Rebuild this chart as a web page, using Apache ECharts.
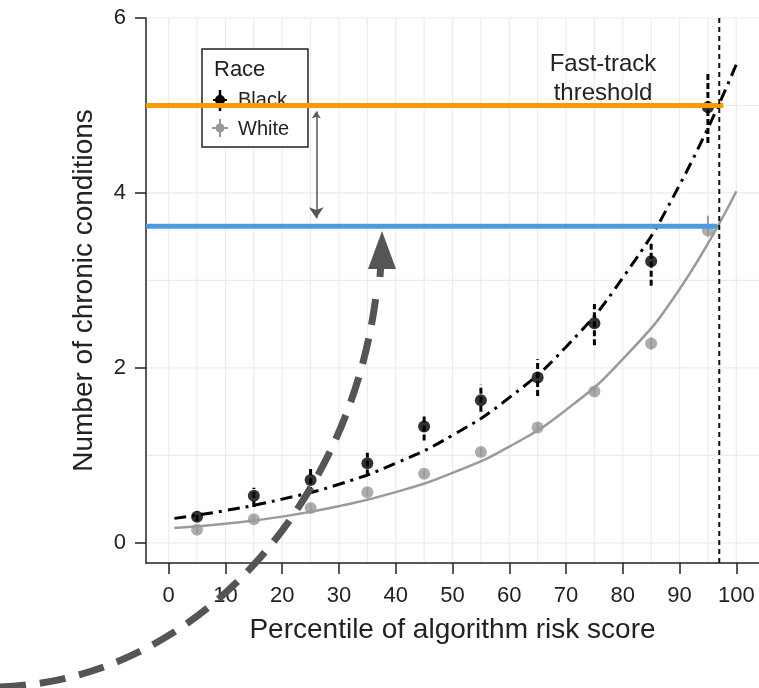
<!DOCTYPE html>
<html>
<head>
<meta charset="utf-8">
<script src="https://cdn.jsdelivr.net/npm/echarts@6/dist/echarts.min.js"></script>
<style>
html, body { margin: 0; padding: 0; background: #fff; }
#chart { width: 759px; height: 688px; }
</style>
</head>
<body>
<div id="chart"></div>
<script>
// binned means by risk percentile
const percentiles = [5, 15, 25, 35, 45, 55, 65, 75, 85, 95]
const blackMean = [0.30, 0.54, 0.72, 0.91, 1.33, 1.63, 1.89, 2.51, 3.22, 4.98]
const blackLow = [0.25, 0.41, 0.57, 0.77, 1.17, 1.50, 1.68, 2.26, 2.94, 4.57]
const blackHigh = [0.36, 0.63, 0.85, 1.03, 1.48, 1.81, 2.10, 2.73, 3.42, 5.38]
const whiteMean = [0.15, 0.27, 0.40, 0.58, 0.79, 1.04, 1.32, 1.73, 2.28, 3.57]
const whiteLow = [0.11, 0.23, 0.36, 0.54, 0.75, 0.99, 1.27, 1.68, 2.21, 3.50]
const whiteHigh = [0.19, 0.31, 0.44, 0.62, 0.83, 1.09, 1.37, 1.78, 2.35, 3.74]

// fitted curves
const fitX = [1, 10, 20, 30, 40, 50, 60, 70, 80, 90, 100]
const blackFit = [0.28, 0.37, 0.50, 0.67, 0.91, 1.23, 1.66, 2.24, 3.03, 4.09, 5.47]
const whiteFit = [0.17, 0.22, 0.30, 0.42, 0.58, 0.80, 1.10, 1.52, 2.10, 2.90, 4.02]

// reference lines
const blackThreshold = [[-4, 5.0], [97.7, 5.0]]
const whiteThreshold = [[-4, 3.62], [96.6, 3.62]]
const fastTrack = [[97, 6], [97, -0.23]]
const gapArrow = [[26, 4.93], [26, 3.71]]

const xTicks = [0, 10, 20, 30, 40, 50, 60, 70, 80, 90, 100]
const yTicks = [0, 2, 4, 6]
const xGrid = [0, 5, 10, 15, 20, 25, 30, 35, 40, 45, 50, 55, 60, 65, 70, 75, 80, 85, 90, 95, 100]
const yGrid = [0, 1, 2, 3, 4, 5, 6]

const xMin = -4
const xMax = 104
const yMin = -0.23
const yMax = 6
const font = 'Liberation Sans, Arial, sans-serif'

const chart = echarts.init(document.getElementById('chart'))

function gridLine(vertical) {
  return function(params, api) {
    const v = api.value(vertical ? 0 : 1)
    const a = vertical ? api.coord([v, yMin]) : api.coord([xMin, v])
    const b = vertical ? api.coord([v, yMax]) : api.coord([xMax, v])
    return {
      type: 'line',
      shape: { x1: a[0], y1: a[1], x2: b[0], y2: b[1] },
      style: { stroke: '#ececec', lineWidth: 1.2 }
    }
  }
}

function errorBar(color, width, dash) {
  return function(params, api) {
    const lo = api.coord([api.value(0), api.value(1)])
    const hi = api.coord([api.value(0), api.value(2)])
    return {
      type: 'line',
      shape: { x1: lo[0], y1: lo[1], x2: hi[0], y2: hi[1] },
      style: { stroke: color, lineWidth: width, lineDash: dash }
    }
  }
}

const option = {
  animation: false,
  backgroundColor: '#fff',
  grid: { left: 146, top: 18, right: 0, bottom: 125 },
  xAxis: {
    type: 'value',
    min: xMin,
    max: xMax,
    name: 'Percentile of algorithm risk score',
    nameLocation: 'middle',
    nameGap: 53,
    nameTextStyle: { fontFamily: font, fontSize: 28, color: '#222' },
    axisLine: { onZero: false, lineStyle: { color: '#222', width: 1.5 } },
    axisTick: { customValues: xTicks, length: 11, lineStyle: { color: '#222', width: 1.5 } },
    axisLabel: { customValues: xTicks, fontFamily: font, fontSize: 22, color: '#222', margin: 22 },
    splitLine: { show: false }
  },
  yAxis: {
    type: 'value',
    min: yMin,
    max: yMax,
    name: 'Number of chronic conditions',
    nameLocation: 'middle',
    nameGap: 48,
    nameTextStyle: { fontFamily: font, fontSize: 28, color: '#222' },
    axisLine: { onZero: false, lineStyle: { color: '#222', width: 1.5 } },
    axisTick: { customValues: yTicks, length: 11, lineStyle: { color: '#222', width: 1.5 } },
    axisLabel: { customValues: yTicks, fontFamily: font, fontSize: 22, color: '#222', margin: 20 },
    splitLine: { show: false }
  },
  graphic: [
    // legend box
    {
      type: 'group',
      z: 3,
      children: [
        { type: 'rect', z: 3, shape: { x: 202, y: 49, width: 106, height: 98 }, style: { fill: '#fff', stroke: '#222', lineWidth: 1.5 } },
        { type: 'text', z: 4, x: 214, y: 59, style: { text: 'Race', fontFamily: font, fontSize: 22, fill: '#222' } },
        { type: 'line', z: 4, shape: { x1: 220, y1: 90, x2: 220, y2: 111 }, style: { stroke: '#000', lineWidth: 2.5 } },
        { type: 'line', z: 4, shape: { x1: 213, y1: 100, x2: 227, y2: 100 }, style: { stroke: '#000', lineWidth: 2 } },
        { type: 'circle', z: 4, shape: { cx: 220, cy: 100, r: 5 }, style: { fill: '#000' } },
        { type: 'text', z: 4, x: 238, y: 100, style: { text: 'Black', fontFamily: font, fontSize: 20, fill: '#222', verticalAlign: 'middle' } },
        { type: 'line', z: 4, shape: { x1: 220, y1: 119, x2: 220, y2: 137 }, style: { stroke: '#999', lineWidth: 2 } },
        { type: 'line', z: 4, shape: { x1: 212, y1: 128, x2: 228, y2: 128 }, style: { stroke: '#999', lineWidth: 2 } },
        { type: 'circle', z: 4, shape: { cx: 220, cy: 128, r: 4.5 }, style: { fill: '#999' } },
        { type: 'text', z: 4, x: 238, y: 129, style: { text: 'White', fontFamily: font, fontSize: 20, fill: '#222', verticalAlign: 'middle' } }
      ]
    },
    {
      type: 'text',
      z: 4,
      x: 603,
      y: 50,
      style: {
        text: 'Fast-track\nthreshold',
        fontFamily: font,
        fontSize: 24,
        lineHeight: 29,
        fill: '#222',
        align: 'center'
      }
    },
    // big dashed annotation arrow
    {
      type: 'bezierCurve',
      z: 20,
      shape: { x1: 0, y1: 687, cpx1: 200, cpy1: 680, cpx2: 350, cpy2: 500, x2: 376, y2: 296 },
      style: { stroke: '#555', lineWidth: 7, fill: null, lineDash: [26, 14] }
    },
    {
      type: 'line',
      z: 20,
      shape: { x1: 381, y1: 262, x2: 380, y2: 277 },
      style: { stroke: '#555', lineWidth: 7 }
    },
    {
      type: 'polygon',
      z: 20,
      shape: { points: [[382, 231], [368, 269], [396, 269]] },
      style: { fill: '#555' }
    }
  ],
  series: [
    {
      type: 'custom',
      z: 0,
      silent: true,
      renderItem: gridLine(true),
      data: xGrid.map(v => [v, 0])
    },
    {
      type: 'custom',
      z: 0,
      silent: true,
      renderItem: gridLine(false),
      data: yGrid.map(v => [0, v])
    },
    {
      name: 'White fit',
      type: 'line',
      z: 5,
      smooth: true,
      showSymbol: false,
      lineStyle: { color: '#9a9a9a', width: 2.5 },
      data: fitX.map((x, i) => [x, whiteFit[i]])
    },
    {
      name: 'Black fit',
      type: 'line',
      z: 5,
      smooth: true,
      showSymbol: false,
      lineStyle: { color: '#000', width: 3, type: [12, 6, 3, 6] },
      data: fitX.map((x, i) => [x, blackFit[i]])
    },
    {
      type: 'custom',
      z: 6,
      renderItem: errorBar('#999', 2, null),
      encode: { x: 0, y: [1, 2] },
      data: percentiles.map((x, i) => [x, whiteLow[i], whiteHigh[i]])
    },
    {
      type: 'custom',
      z: 6,
      renderItem: errorBar('#000', 3, [6, 3]),
      encode: { x: 0, y: [1, 2] },
      data: percentiles.map((x, i) => [x, blackLow[i], blackHigh[i]])
    },
    {
      name: 'White',
      type: 'scatter',
      z: 7,
      symbolSize: 12,
      itemStyle: { color: '#999' },
      data: percentiles.map((x, i) => [x, whiteMean[i]])
    },
    {
      name: 'Black',
      type: 'scatter',
      z: 7,
      symbolSize: 12,
      itemStyle: { color: '#000' },
      data: percentiles.map((x, i) => [x, blackMean[i]])
    },
    {
      type: 'line',
      z: 10,
      showSymbol: false,
      lineStyle: { color: '#ff9900', width: 5 },
      data: blackThreshold
    },
    {
      type: 'line',
      z: 10,
      showSymbol: false,
      lineStyle: { color: '#4a9be2', width: 5 },
      data: whiteThreshold
    },
    {
      type: 'line',
      z: 11,
      showSymbol: false,
      lineStyle: { color: '#111', width: 2, type: [5, 4] },
      data: fastTrack
    },
    {
      type: 'lines',
      coordinateSystem: 'cartesian2d',
      z: 11,
      symbol: ['arrow', 'arrow'],
      symbolSize: [7, 11],
      lineStyle: { color: '#555', width: 1.5, opacity: 1 },
      data: [{ coords: gapArrow }]
    }
  ]
}

chart.setOption(option)
</script>
</body>
</html>
